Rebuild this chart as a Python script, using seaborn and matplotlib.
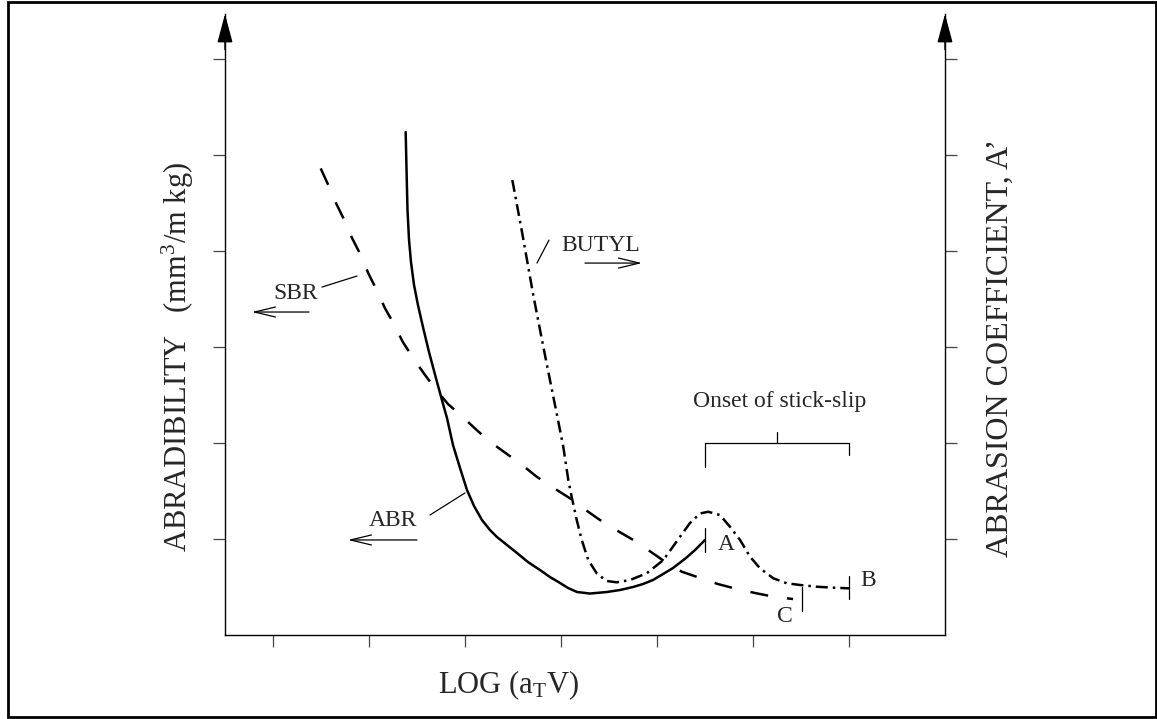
import matplotlib
matplotlib.use("Agg")
import matplotlib.pyplot as plt
import seaborn as sns
from matplotlib.patches import Rectangle

# ---- data (x: LOG(aT V) in tick units, y: tick units) ----
abr_x = [2.382, 2.391, 2.401, 2.417, 2.4375, 2.469, 2.510, 2.5625, 2.625, 2.703,
         2.760, 2.8125, 2.875, 2.948, 3.021, 3.094, 3.177, 3.260, 3.333, 3.4375,
         3.542, 3.656, 3.781, 3.885, 3.990, 4.073, 4.167, 4.302, 4.479, 4.615,
         4.75, 4.854, 4.958, 5.0625, 5.167, 5.302, 5.396, 5.5]
abr_y = [5.240, 4.844, 4.427, 4.115, 3.885, 3.646, 3.4375, 3.208, 2.948, 2.656,
         2.448, 2.260, 1.979, 1.740, 1.510, 1.344, 1.198, 1.094, 1.021, 0.9375,
         0.854, 0.760, 0.677, 0.604, 0.542, 0.490, 0.448, 0.432, 0.448, 0.469,
         0.500, 0.531, 0.573, 0.635, 0.698, 0.802, 0.885, 0.990]

sbr_x = [1.497, 1.576, 1.656, 1.743, 1.820, 1.914, 1.993, 2.080, 2.167, 2.260,
         2.351, 2.455, 2.576, 2.6875, 2.823, 2.966, 3.122, 3.260, 3.427, 3.573,
         3.747, 3.903, 4.094, 4.232, 4.406, 4.545, 4.753, 4.909, 5.083, 5.257,
         5.448, 5.635, 5.833, 6.021, 6.229, 6.417]
sbr_y = [4.861, 4.6875, 4.5, 4.323, 4.143, 3.958, 3.768, 3.594, 3.403, 3.240,
         3.055, 2.893, 2.719, 2.570, 2.406, 2.281, 2.135, 2.014, 1.893, 1.789,
         1.649, 1.545, 1.424, 1.320, 1.198, 1.111, 0.990, 0.885, 0.764, 0.660,
         0.594, 0.531, 0.479, 0.4375, 0.396, 0.375]

butyl_x = [3.493, 3.594, 3.711, 3.802, 3.885, 3.955, 4.024, 4.076, 4.111, 4.164,
           4.216, 4.284, 4.372, 4.476, 4.580, 4.719, 4.893, 5.066, 5.240, 5.344,
           5.448, 5.534, 5.656, 5.760, 5.865, 5.969, 6.073, 6.211, 6.351, 6.490,
           6.664, 6.836, 7.003]
butyl_y = [4.740, 4.198, 3.542, 3.073, 2.656, 2.309, 1.961, 1.615, 1.441, 1.198,
           0.990, 0.781, 0.643, 0.5625, 0.549, 0.573, 0.643, 0.781, 1.024, 1.167,
           1.266, 1.284, 1.250, 1.128, 0.990, 0.816, 0.695, 0.591, 0.539, 0.521,
           0.503, 0.493, 0.486]

x_ticks = [1, 2, 3, 4, 5, 6, 7]
y_ticks = [1, 2, 3, 4, 5, 6]

sns.set_theme(style="ticks")
plt.rcParams["font.family"] = ["Liberation Serif", "DejaVu Serif"]
plt.rcParams["mathtext.fontset"] = "custom"
plt.rcParams["mathtext.rm"] = "Liberation Serif"
plt.rcParams["mathtext.it"] = "Liberation Serif:italic"

fig = plt.figure(figsize=(11.57, 7.19), dpi=100)
fig.patch.set_facecolor("white")
ax = fig.add_axes([225 / 1157, 84 / 719, 720 / 1157, 621 / 719])
ax.set_facecolor("white")

LW = 1.8
common = dict(sort=False, estimator=None, color="black", lw=LW, ax=ax,
              solid_joinstyle="round", dash_joinstyle="round")
sns.lineplot(x=abr_x, y=abr_y, **common)
sns.lineplot(x=sbr_x, y=sbr_y, linestyle=(0, (7.2, 7.6)), **common)
sns.lineplot(x=butyl_x, y=butyl_y, linestyle=(0, (4.8, 2.0, 1.0, 2.0)), **common)

ax.set_xlim(0.5, 8.0)
ax.set_ylim(0, 6.47)
ax.set_xticks(x_ticks)
ax.set_yticks(y_ticks)
ax.set_xticklabels([])
ax.set_yticklabels([])
ax.tick_params(axis="both", direction="out", length=8.6, width=0.9, color="#444444",
               left=True, right=True, bottom=True, top=False)
for s in ["left", "right", "bottom"]:
    ax.spines[s].set_visible(True)
    ax.spines[s].set_color("black")
    ax.spines[s].set_linewidth(1.0)
ax.spines["top"].set_visible(False)
ax.set_xlabel("")
ax.set_ylabel("")

# axis arrowheads
for xx in (0.5, 8.0):
    ax.annotate("", xy=(xx, 6.47), xytext=(xx, 6.1), xycoords="data",
                arrowprops=dict(arrowstyle="-|>,head_length=1.5,head_width=0.4",
                                color="black", lw=1.0, shrinkA=0, shrinkB=0),
                annotation_clip=False)

thin = dict(color="black", lw=0.9)
# end ticks A, B, C
ax.plot([5.5, 5.5], [1.11, 0.86], **thin)
ax.plot([7.0, 7.0], [0.615, 0.375], **thin)
ax.plot([6.51, 6.51], [0.5, 0.25], **thin)
ax.text(5.72, 0.94, "A", fontsize=17, ha="center", va="center")
ax.text(7.2, 0.57, "B", fontsize=17, ha="center", va="center")
ax.text(6.33, 0.19, "C", fontsize=17, ha="center", va="center")

# stick-slip bracket
ax.plot([5.5, 5.5, 7.0, 7.0], [1.75, 2.0, 2.0, 1.875], **thin)
ax.plot([6.25, 6.25], [2.0, 2.115], **thin)
ax.text(6.28, 2.43, "Onset of stick-slip", fontsize=17, ha="center", va="center")

arrow_kw = dict(arrowstyle="->,head_length=0.75,head_width=0.18", color="black",
                lw=0.9, shrinkA=0, shrinkB=0, mutation_scale=20)
# SBR
ax.text(1.24, 3.56, "SBR", fontsize=17, ha="center", va="center")
ax.plot([1.51, 1.875], [3.625, 3.74], **thin)
ax.annotate("", xy=(0.78, 3.365), xytext=(1.375, 3.365), arrowprops=arrow_kw)
# ABR
ax.text(2.25, 1.19, "ABR", fontsize=17, ha="center", va="center")
ax.plot([2.635, 3.0], [1.25, 1.48], **thin)
ax.annotate("", xy=(1.78, 0.99), xytext=(2.5, 0.99), arrowprops=arrow_kw)
# BUTYL
ax.text(4.417, 4.06, "BUTYL", fontsize=17, ha="center", va="center")
ax.plot([3.75, 3.875], [3.875, 4.115], **thin)
ax.annotate("", xy=(4.844, 3.875), xytext=(4.25, 3.875), arrowprops=arrow_kw)

# axis labels
fig.text(178 / 1157, 1 - 357 / 719, "ABRADIBILITY   (mm$^{\\mathrm{3}}$/m kg)",
         rotation=90, fontsize=22, ha="center", va="center")
fig.text(1000 / 1157, 1 - 348 / 719, "ABRASION COEFFICIENT, A\u2019",
         rotation=90, fontsize=23, ha="center", va="center")
fig.text(508 / 1157, 1 - 685 / 719, "LOG (a$_{\\mathrm{T}}$V)",
         fontsize=22, ha="center", va="center")

# figure frame
fig.patches.append(Rectangle((7.5 / 1157, 2 / 719), (1156 - 7.5) / 1157, (718 - 3) / 719,
                             transform=fig.transFigure, fill=False, edgecolor="black",
                             lw=2.0, zorder=10))

fig.savefig("out.png", dpi=100, facecolor="white")
